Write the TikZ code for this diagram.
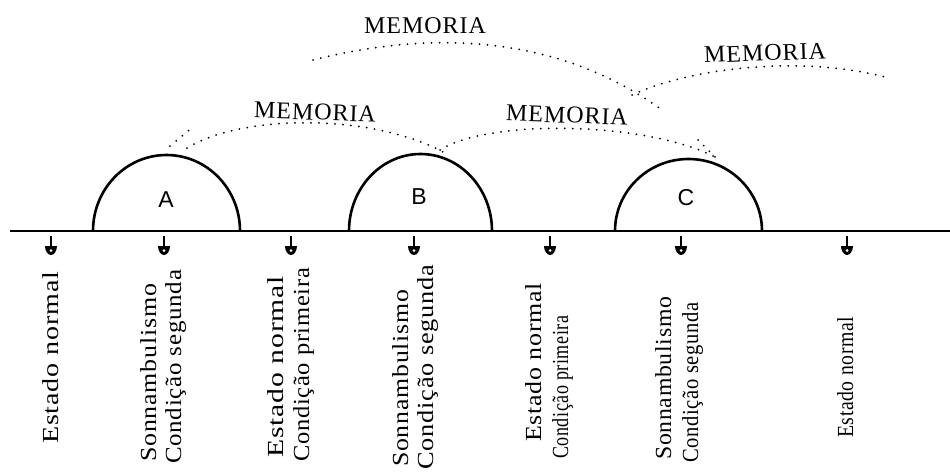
\documentclass[tikz,border=0pt]{standalone}
\usepackage{fontspec, graphicx, tikz}
\usetikzlibrary{positioning}
\setmainfont{Liberation Serif}
\newfontfamily\abcfont{Liberation Sans}
\newcommand{\stretchto}[2]{\resizebox{#1}{\height}{#2}}

\tikzset{
    vlab/.style={rotate=90, anchor=base west, inner sep=0pt,
        font=\fontsize{23}{27}\selectfont\addfontfeature{LetterSpace=3}},
    memo/.style={inner sep=0pt,
        font=\fontsize{24}{28}\selectfont\addfontfeature{LetterSpace=4}},
    memline/.style={line width=2pt, line cap=round, dash pattern=on 0pt off 8pt},
    dome/.style={line width=2.6pt}
}

\begin{document}
\begin{tikzpicture}[x=1pt, y=-1pt]
    \useasboundingbox (0,0) rectangle (950,472);

    % Baseline
    \draw[line width=2.6pt] (10,231) -- (950,231);

    % Domes A, B, C
    \draw[dome] (93,231) arc[start angle=180, end angle=360, x radius=73.5, y radius=76];
    \draw[dome] (349,231) arc[start angle=180, end angle=360, x radius=71.5, y radius=77];
    \draw[dome] (615,231) arc[start angle=180, end angle=360, x radius=73.5, y radius=72];
    \node[font=\abcfont\fontsize{23}{24}\selectfont] (a) at (166,200) {A};
    \node[font=\abcfont\fontsize{23}{24}\selectfont] (b) at (419,197) {B};
    \node[font=\abcfont\fontsize{23}{24}\selectfont] (c) at (686,198) {C};

    % Markers under the baseline
    \foreach \x in {51,164,291,414,550,681,847} {
        \draw[line width=1.7pt] (\x,236) -- (\x,247);
        \fill (\x-6,246) -- (\x+6,246) .. controls (\x+6,251) and (\x+3,255) .. (\x,255)
            .. controls (\x-3,255) and (\x-6,251) .. (\x-6,246) -- cycle;
        \fill[white] (\x,250.5) circle[radius=1.5];
    }

    % Memory arcs
    \draw[memline] (170,146) -- (193,127);
    \draw[memline] (187,148) .. controls (240,115) and (370,112) .. (445,153);
    \draw[memline] (440,150) .. controls (490,118) and (650,122) .. (717,158);
    \draw[memline] (698,140) -- (718,160);
    \draw[memline] (313,60) .. controls (400,38) and (540,22) .. (662,110);
    \draw[memline] (632,95) .. controls (690,68) and (800,55) .. (885,77);

    \node[memo, rotate=-2] (m1) at (315,112) {MEMORIA};
    \node[memo, rotate=-2] (m2) at (567,115) {MEMORIA};
    \node[memo] (m3) at (425,26) {MEMORIA};
    \node[memo, rotate=2] (m4) at (765,53) {MEMORIA};

    % State labels
    \node[vlab] (en1) at (58,444) {\stretchto{172pt}{Estado normal}};
    \node[vlab] (sn1) at (156,462) {\stretchto{178pt}{Sonnambulismo}};
    \node[vlab] (cs1) at (181,464) {\stretchto{194pt}{Condição segunda}};
    \node[vlab] (en2) at (283,458) {\stretchto{182pt}{Estado normal}};
    \node[vlab] (cp1) at (309,462) {\stretchto{194pt}{Condição primeira}};
    \node[vlab] (sn2) at (408,467) {\stretchto{177pt}{Sonnambulismo}};
    \node[vlab] (cs2) at (433,470) {\stretchto{205pt}{Condição segunda}};
    \node[vlab] (en3) at (541,442) {\stretchto{159pt}{Estado normal}};
    \node[vlab] (cp2) at (568,459) {\stretchto{143pt}{Condição primeira}};
    \node[vlab] (sn3) at (671,460) {\stretchto{163pt}{Sonnambulismo}};
    \node[vlab] (cs3) at (698,463) {\stretchto{160pt}{Condição segunda}};
    \node[vlab] (en4) at (853,438) {\stretchto{121pt}{Estado normal}};
\end{tikzpicture}
\end{document}
